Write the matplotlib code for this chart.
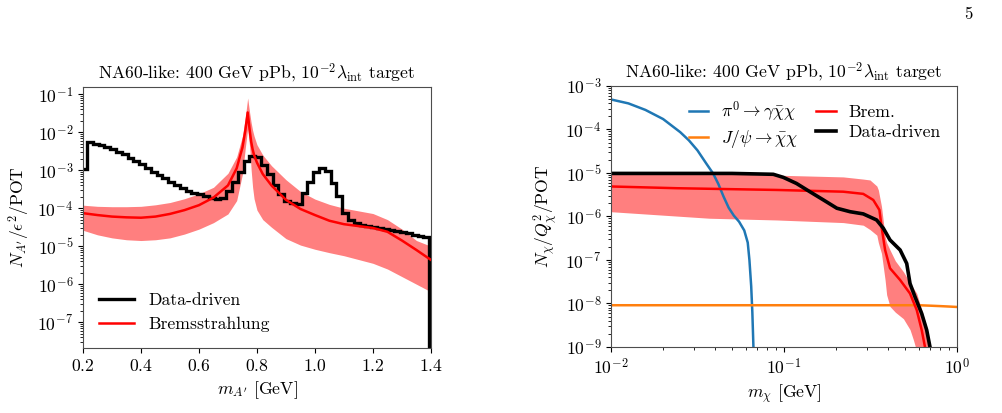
import numpy as np
import matplotlib
matplotlib.use("Agg")
import matplotlib.pyplot as plt

plt.rcParams['font.family'] = 'serif'
plt.rcParams['font.serif'] = ['cmr10']
plt.rcParams['mathtext.fontset'] = 'cm'
plt.rcParams['axes.formatter.use_mathtext'] = True
plt.rcParams['font.size'] = 12.7

# ---- left panel: dark photon yield vs mass ----
# data-driven histogram, log10 of the bin contents (bins of 0.02 GeV)
hist_edges = np.linspace(0.1938, 1.3938, 61)
hist_log = [-2.97,
            -2.26, -2.32, -2.34, -2.38, -2.44, -2.51, -2.58, -2.67, -2.76, -2.84,
            -2.93, -3.04, -3.12, -3.21, -3.32, -3.40, -3.47, -3.54, -3.59, -3.63,
            -3.67, -3.72, -3.76, -3.74, -3.55, -3.30, -3.05, -2.75, -2.63,
            -2.65, -2.86, -3.10, -3.38, -3.62, -3.80, -3.87, -3.88, -3.61, -3.30,
            -3.04, -2.95, -3.03, -3.34, -3.69, -4.13, -4.31, -4.40,
            -4.43, -4.46, -4.49, -4.51, -4.54, -4.57, -4.60, -4.63, -4.66, -4.70,
            -4.73, -4.77]

# bremsstrahlung estimate: central line and band (log10)
m_brem = [0.2, 0.25, 0.3, 0.35, 0.4, 0.45, 0.5, 0.55, 0.6, 0.65, 0.7, 0.73, 0.75,
          0.76, 0.768, 0.775, 0.78, 0.785, 0.79, 0.8, 0.82, 0.85, 0.9, 0.95, 1.0,
          1.05, 1.1, 1.15, 1.2, 1.25, 1.3, 1.35, 1.4]
brem_log = [-4.13, -4.18, -4.22, -4.24, -4.25, -4.22, -4.15, -4.05, -3.92, -3.72,
            -3.40, -2.95, -2.40, -1.95, -1.48, -1.95, -2.25, -2.45, -2.60, -2.80,
            -3.10, -3.40, -3.78, -4.02, -4.18, -4.33, -4.42, -4.47, -4.52, -4.62,
            -4.85, -5.10, -5.36]
brem_hi_log = [-3.92, -3.95, -3.96, -3.96, -3.95, -3.91, -3.85, -3.75, -3.62, -3.45,
               -3.08, -2.65, -2.10, -1.60, -1.10, -1.50, -1.75, -1.95, -2.10, -2.33,
               -2.60, -2.88, -3.25, -3.56, -3.76, -3.90, -4.00, -4.07, -4.14, -4.30,
               -4.55, -4.85, -5.00]
brem_lo_log = [-4.58, -4.70, -4.78, -4.83, -4.85, -4.83, -4.78, -4.68, -4.55, -4.38,
               -4.15, -3.80, -3.10, -2.40, -1.90, -2.40, -3.00, -3.45, -3.75, -4.05,
               -4.30, -4.50, -4.80, -4.97, -5.08, -5.17, -5.25, -5.35, -5.45, -5.60,
               -5.80, -6.00, -6.20]

# ---- right panel: millicharged particle yield vs mass ----
m_pi = [0.010, 0.0126, 0.0158, 0.020, 0.0251, 0.0282, 0.0316, 0.0355, 0.0389,
        0.0417, 0.0447, 0.0479, 0.0513, 0.0550, 0.0589, 0.0617, 0.0631, 0.0646,
        0.0656, 0.0668]
pi_log = [-3.31, -3.40, -3.55, -3.76, -4.06, -4.25, -4.48, -4.78, -5.01, -5.25,
          -5.54, -5.80, -5.98, -6.12, -6.32, -6.60, -7.00, -7.60, -8.20, -9.20]

m_jpsi = [0.01, 0.1, 0.6, 0.7, 0.8, 0.9, 1.0]
jpsi_log = [-8.04, -8.04, -8.04, -8.05, -8.06, -8.07, -8.08]

m_data = [0.010, 0.050, 0.0867, 0.099, 0.118, 0.141, 0.169, 0.202, 0.241, 0.287,
          0.343, 0.375, 0.410, 0.469, 0.512, 0.535, 0.571, 0.625, 0.668, 0.698, 0.72]
data_log = [-5.01, -5.01, -5.03, -5.10, -5.24, -5.43, -5.62, -5.81, -5.89, -5.94,
            -6.08, -6.27, -6.54, -6.77, -7.08, -7.54, -7.84, -8.23, -8.61, -9.00, -9.3]

m_br = [0.010, 0.024, 0.091, 0.220, 0.287, 0.328, 0.356, 0.366, 0.384, 0.410,
        0.469, 0.535, 0.585, 0.625, 0.653, 0.68]
br_log = [-5.31, -5.35, -5.39, -5.43, -5.48, -5.62, -5.85, -6.23, -6.77, -7.19,
          -7.46, -7.77, -8.15, -8.61, -9.00, -9.4]

m_band = [0.010, 0.037, 0.091, 0.220, 0.287, 0.314, 0.344, 0.351, 0.366, 0.384,
          0.392, 0.410, 0.440, 0.490, 0.535, 0.560, 0.585, 0.668, 0.73]
band_hi_log = [-4.97, -5.01, -5.05, -5.09, -5.14, -5.16, -5.30, -5.39, -5.77, -6.46,
               -6.60, -6.77, -7.02, -7.27, -7.52, -7.65, -7.77, -8.53, -9.3]
band_lo_log = [-5.89, -6.04, -6.08, -6.14, -6.20, -6.30, -6.43, -6.60, -6.85, -7.46,
               -7.80, -8.07, -8.20, -8.35, -8.60, -8.84, -9.10, -9.6, -9.8]

fig = plt.figure(figsize=(10.02, 4.13), dpi=100)
title = r'NA60-like: 400 GeV pPb, $10^{-2}\lambda_{\rm int}$ target'

ax1 = fig.add_axes([0.0828, 0.1574, 0.3473, 0.632])
ax1.fill_between(m_brem, 10**np.array(brem_lo_log), 10**np.array(brem_hi_log),
                 color='red', alpha=0.5, lw=0)
ax1.stairs(10**np.array(hist_log), hist_edges, baseline=1e-12, color='black', lw=2.4,
           label='Data-driven')
ax1.plot(m_brem, 10**np.array(brem_log), color='red', lw=1.8, label='Bremsstrahlung')
ax1.set_yscale('log')
ax1.set_xlim(0.2, 1.4)
ax1.set_ylim(2.1e-8, 0.155)
ax1.set_xticks([0.2, 0.4, 0.6, 0.8, 1.0, 1.2, 1.4])
ax1.set_yticks([1e-7, 1e-6, 1e-5, 1e-4, 1e-3, 1e-2, 1e-1])
ax1.set_xlabel(r"$m_{A'}$ [GeV]")
ax1.set_ylabel(r"$N_{A'}/\epsilon^2/{\rm POT}$")
ax1.set_title(title, fontsize=12.7)
ax1.legend(loc='lower left', frameon=False, fontsize=12.7)

ax2 = fig.add_axes([0.6098, 0.1598, 0.3453, 0.632])
ax2.fill_between(m_band, 10**np.array(band_lo_log), 10**np.array(band_hi_log),
                 color='red', alpha=0.5, lw=0)
ax2.plot(m_pi, 10**np.array(pi_log), color='#1f77b4', lw=1.8,
         label=r'$\pi^0\to\gamma\bar{\chi}\chi$')
ax2.plot(m_jpsi, 10**np.array(jpsi_log), color='#ff7f0e', lw=1.8,
         label=r'$J/\psi\to\bar{\chi}\chi$')
ax2.plot(m_br, 10**np.array(br_log), color='red', lw=1.8, label='Brem.')
ax2.plot(m_data, 10**np.array(data_log), color='black', lw=2.6, label='Data-driven')
ax2.set_xscale('log')
ax2.set_yscale('log')
ax2.set_xlim(1e-2, 1)
ax2.set_ylim(1e-9, 1e-3)
ax2.set_yticks([1e-9, 1e-8, 1e-7, 1e-6, 1e-5, 1e-4, 1e-3])
ax2.set_xlabel(r'$m_\chi$ [GeV]')
ax2.set_ylabel(r'$N_\chi/Q_\chi^2/{\rm POT}$')
ax2.set_title(title, fontsize=12.7)
ax2.legend(loc='upper right', ncol=2, frameon=False, fontsize=12.7,
           handlelength=1.1, handletextpad=0.75, columnspacing=1.0,
           labelspacing=0.25, bbox_to_anchor=(1.0, 1.01))

for ax in (ax1, ax2):
    for s in ax.spines.values():
        s.set_color('0.3')

fig.text(0.962, 0.955, '5', fontsize=12)

fig.savefig('out.png', dpi=100)
